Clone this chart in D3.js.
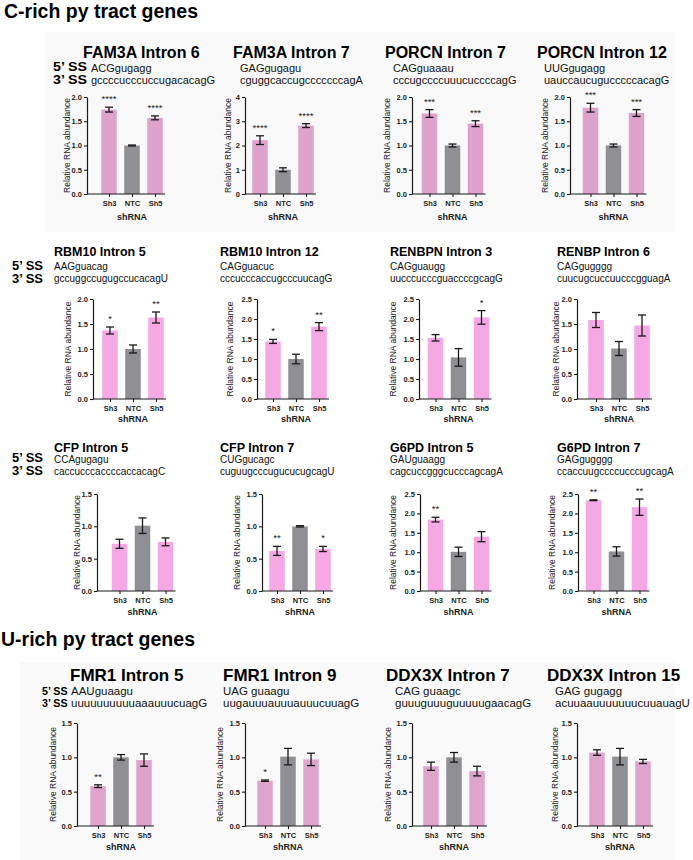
<!DOCTYPE html>
<html>
<head>
<meta charset="utf-8">
<script src="https://cdn.jsdelivr.net/npm/d3@7/dist/d3.min.js"></script>
<style>
  html, body { margin: 0; padding: 0; background: #fff; }
  svg { display: block; font-family: "Liberation Sans", Arial, sans-serif; }
</style>
</head>
<body>
<svg id="chart" width="693" height="860"></svg>
<script>
// ---------------- DATA ----------------
const categories = ["Sh3", "NTC", "Sh5"];
const sectionTitles = ["C-rich py tract genes", "U-rich py tract genes"];
const panelTitles = [
  "FAM3A Intron 6", "FAM3A Intron 7", "PORCN Intron 7", "PORCN Intron 12",
  "RBM10 Intron 5", "RBM10 Intron 12", "RENBPN Intron 3", "RENBP Intron 6",
  "CFP Intron 5", "CFP Intron 7", "G6PD Intron 5", "G6PD Intron 7",
  "FMR1 Intron 5", "FMR1 Intron 9", "DDX3X Intron 7", "DDX3X Intron 15"
];
const ss5Seqs = [
  "ACGgugagg", "GAGgugagu", "CAGguaaau", "UUGgugagg",
  "AAGguacag", "CAGguacuc", "CAGguaugg", "CAGgugggg",
  "CCAgugagu", "CUGgucagc", "GAUguaagg", "GAGgugggg",
  "AAUguaagu", "UAG guaagu", "CAG guaagc", "GAG gugagg"
];
const ss3Seqs = [
  "gccccucccuccugacacagG", "cguggcaccugcccccccagA", "cccugccccuuucuccccagG", "uauccaucugucccccacagG",
  "gccuggccugugccucacagU", "cccucccaccugcccuucagG", "uucccucccguaccccgcagG", "cuucugcuccuucccgguagA",
  "caccucccaccccaccacagC", "cuguugcccugucucugcagU", "cagcuccgggcucccagcagA", "ccaccuugccccucccugcagA",
  "uuuuuuuuuuaaauuucuagG", "uugauuuauuuauuucuuagG", "guuuguuuguuuuugaacagG", "acuuaauuuuuuucuuauagU"
];
const meanValues = [
  [1.74, 1.00, 1.57], [2.22, 1.00, 2.82], [1.66, 1.00, 1.45], [1.78, 1.00, 1.67],
  [1.37, 1.00, 1.63], [1.44, 1.00, 1.81], [1.53, 1.04, 2.04], [1.58, 1.01, 1.47],
  [0.73, 1.01, 0.76], [0.62, 1.00, 0.65], [1.84, 1.01, 1.40], [2.34, 1.02, 2.16],
  [0.58, 1.00, 0.96], [0.66, 1.01, 0.97], [0.87, 1.00, 0.80], [1.07, 1.01, 0.94]
];
const errorValues = [
  [0.05, 0.01, 0.04], [0.18, 0.08, 0.08], [0.08, 0.03, 0.06], [0.09, 0.03, 0.07],
  [0.07, 0.08, 0.11], [0.05, 0.12, 0.10], [0.08, 0.22, 0.17], [0.15, 0.14, 0.21],
  [0.07, 0.12, 0.06], [0.07, 0.01, 0.04], [0.06, 0.12, 0.13], [0.01, 0.12, 0.21],
  [0.02, 0.04, 0.09], [0.01, 0.12, 0.09], [0.06, 0.07, 0.07], [0.04, 0.12, 0.03]
];
const starLabels = [
  ["****", "", "****"], ["****", "", "****"], ["***", "", "***"], ["***", "", "***"],
  ["*", "", "**"], ["*", "", "**"], ["", "", "*"], ["", "", ""],
  ["", "", ""], ["**", "", "*"], ["**", "", ""], ["**", "", "**"],
  ["**", "", ""], ["*", "", ""], ["", "", ""], ["", "", ""]
];
const yMaxValues = [2, 4, 2, 2, 2, 2.5, 2.5, 2, 1.5, 1.5, 2.5, 2.5, 1.5, 1.5, 1.5, 1.5];
const yStepValues = [0.5, 1, 0.5, 0.5, 0.5, 0.5, 0.5, 0.5, 0.5, 0.5, 0.5, 0.5, 0.5, 0.5, 0.5, 0.5];
const ssLabels = ["5\u2019 SS", "3\u2019 SS"];
const xAxisTitle = "shRNA";
const yAxisTitle = "Relative RNA abundance";

// ---------------- LAYOUT ----------------
const axisXs    = [87, 245, 412, 570, 93, 257, 419, 577, 97, 262, 420, 578, 77, 245, 412, 577];
const barOffs   = [22, 15, 17.5, 20.5, 17, 16, 16.5, 19, 22.5, 15, 15.5, 15.5, 21, 20, 19, 20];
const yLabOffs  = [20, 17, 25, 25, 25, 27, 26, 21, 20, 25, 27, 26, 24, 25, 24, 22];
const titleXs   = [83, 233, 385, 537, 54, 220, 390, 557, 54, 220, 390, 557, 70, 223, 386, 547];
const seqXs     = [91, 240, 393, 544, 54, 220, 390, 557, 54, 220, 390, 557, 71, 223, 395, 555];
const rows = [
  {top: 97, bottom: 194, titleY: 58, s5Y: 71.5, s3Y: 83.5, ssA: 71, ssB: 84, titleSize: 16, seqSize: 11, ssSize: 12.5, ssW: 34, ssX: 53, pink: "#dea3cc", shY: 220},
  {top: 299, bottom: 399, titleY: 256, s5Y: 270, s3Y: 282, ssA: 269.5, ssB: 282.5, titleSize: 12.5, seqSize: 10, ssSize: 12, ssW: 31, ssX: 12, pink: "#f5a8e4", shY: 422},
  {top: 494, bottom: 591, titleY: 452, s5Y: 463, s3Y: 474.5, ssA: 462, ssB: 475, titleSize: 12.5, seqSize: 10, ssSize: 12, ssW: 31, ssX: 12, pink: "#f5a8e4", shY: 615},
  {top: 723, bottom: 826, titleY: 681, s5Y: 695, s3Y: 707, ssA: 695, ssB: 707, titleSize: 17, seqSize: 11.5, ssSize: 11, ssW: 25.5, ssX: 42, pink: "#dea4cc", shY: 850}
];
const gray = "#8f8f94";
const ink = "#1a1a1a";

const svg = d3.select("#chart");

// faint backgrounds of pasted panels
svg.append("rect").attr("x", 45).attr("y", 32).attr("width", 630).attr("height", 200).attr("fill", "#f9f9f9");
svg.append("rect").attr("x", 20).attr("y", 662).attr("width", 655).attr("height", 198).attr("fill", "#fafafa");

// section headings
svg.append("text").attr("x", 4).attr("y", 18).attr("font-size", 19.5).attr("font-weight", "bold").attr("fill", "#000").text(sectionTitles[0]);
svg.append("text").attr("x", 1).attr("y", 646).attr("font-size", 19.5).attr("font-weight", "bold").attr("fill", "#000").text(sectionTitles[1]);

// SS labels per row
rows.forEach(r => {
  svg.append("text").attr("x", r.ssX).attr("y", r.ssA).attr("font-size", r.ssSize).attr("font-weight", "bold").attr("fill", "#000")
    .attr("textLength", r.ssW).attr("lengthAdjust", "spacingAndGlyphs").text(ssLabels[0]);
  svg.append("text").attr("x", r.ssX).attr("y", r.ssB).attr("font-size", r.ssSize).attr("font-weight", "bold").attr("fill", "#000")
    .attr("textLength", r.ssW).attr("lengthAdjust", "spacingAndGlyphs").text(ssLabels[1]);
});

panelTitles.forEach((title, i) => {
  const r = rows[Math.floor(i / 4)];
  const g = svg.append("g");

  g.append("text").attr("x", titleXs[i]).attr("y", r.titleY).attr("font-size", r.titleSize).attr("font-weight", "bold").attr("fill", "#000").text(title);
  g.append("text").attr("x", seqXs[i]).attr("y", r.s5Y).attr("font-size", r.seqSize).attr("fill", "#111").text(ss5Seqs[i]);
  g.append("text").attr("x", seqXs[i]).attr("y", r.s3Y).attr("font-size", r.seqSize).attr("fill", "#111").text(ss3Seqs[i]);

  const ax = axisXs[i];
  const x = d3.scalePoint().domain(categories).range([ax + barOffs[i], ax + barOffs[i] + 46]);
  const y = d3.scaleLinear().domain([0, yMaxValues[i]]).range([r.bottom, r.top]);
  const bw = 15.5;

  // bars
  g.selectAll("rect.bar").data(categories).enter().append("rect")
    .attr("x", d => x(d) - bw / 2)
    .attr("y", (d, k) => y(meanValues[i][k]))
    .attr("width", bw)
    .attr("height", (d, k) => y(0) - y(meanValues[i][k]))
    .attr("fill", d => d === "NTC" ? gray : r.pink);

  // error bars
  categories.forEach((c, k) => {
    const m = meanValues[i][k], e = errorValues[i][k];
    const cx = x(c);
    const y1 = y(m + e), y2 = y(m - e);
    g.append("line").attr("x1", cx).attr("x2", cx).attr("y1", y1).attr("y2", y2).attr("stroke", ink).attr("stroke-width", 1.3);
    [y1, y2].forEach(yy => g.append("line").attr("x1", cx - 4).attr("x2", cx + 4).attr("y1", yy).attr("y2", yy).attr("stroke", ink).attr("stroke-width", 1.3));
    if (starLabels[i][k]) {
      g.append("text").attr("x", cx).attr("y", y1 - 5).attr("text-anchor", "middle")
        .attr("font-size", 9.5).attr("fill", "#222").text(starLabels[i][k]);
    }
  });

  // y axis
  const ticks = d3.range(0, yMaxValues[i] + 1e-9, yStepValues[i]);
  const yAxis = d3.axisLeft(y).tickValues(ticks).tickSize(3).tickSizeOuter(0).tickPadding(2)
    .tickFormat(yStepValues[i] >= 1 ? d3.format("d") : d3.format(".1f"));
  const ya = g.append("g").attr("transform", `translate(${ax},0)`).call(yAxis);
  ya.select(".domain").attr("stroke", ink).attr("stroke-width", 1.2);
  ya.selectAll(".tick line").attr("stroke", ink).attr("stroke-width", 1.1);
  ya.selectAll("text").attr("font-size", 7.5).attr("font-weight", "bold").attr("fill", "#222").attr("font-family", "Liberation Sans, Arial, sans-serif");

  // x axis
  const xAxis = d3.axisBottom(x).tickSize(3).tickSizeOuter(0).tickPadding(3.5);
  const xa = g.append("g").attr("transform", `translate(0,${r.bottom})`).call(xAxis);
  xa.select(".domain").remove();
  xa.append("line").attr("x1", ax).attr("x2", x(categories[2]) + 10).attr("y1", 0).attr("y2", 0).attr("stroke", ink).attr("stroke-width", 1.2);
  xa.selectAll(".tick line").attr("stroke", ink).attr("stroke-width", 1.1);
  xa.selectAll("text").attr("font-size", 7.5).attr("font-weight", "bold").attr("fill", "#222").attr("font-family", "Liberation Sans, Arial, sans-serif");

  // axis titles
  g.append("text").attr("x", x("NTC")).attr("y", r.shY).attr("text-anchor", "middle")
    .attr("font-size", 9).attr("font-weight", "bold").attr("fill", "#222").text(xAxisTitle);
  const ly = (r.top + r.bottom) / 2;
  const lx = ax - yLabOffs[i];
  g.append("text").attr("transform", `translate(${lx},${ly}) rotate(-90)`).attr("text-anchor", "middle")
    .attr("dy", "0.35em").attr("font-size", 8.5).attr("fill", "#222").text(yAxisTitle);
});
</script>
</body>
</html>
